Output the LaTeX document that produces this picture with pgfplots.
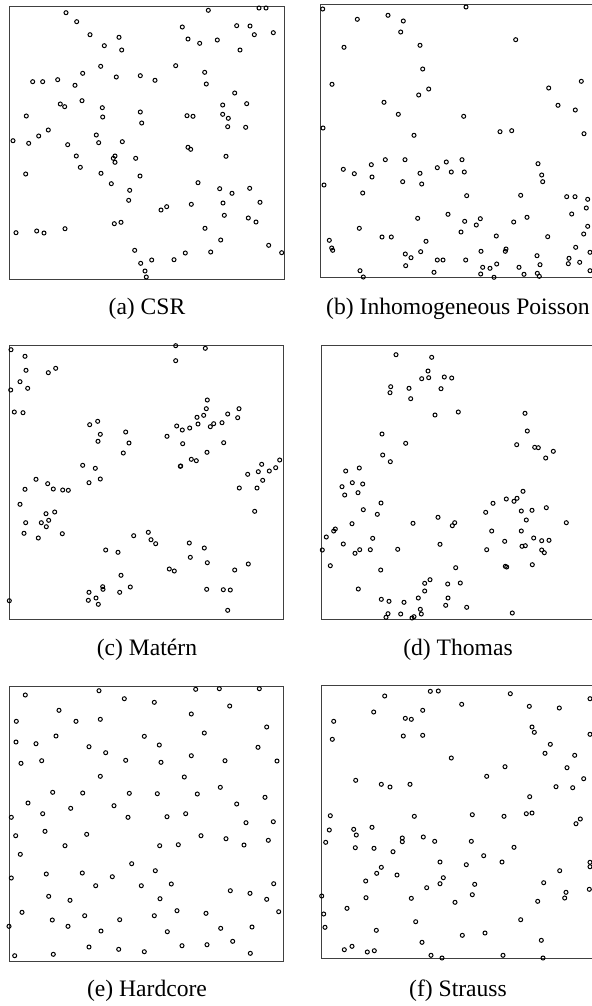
\documentclass[border=0pt]{standalone}
\usepackage{pgfplots}
\pgfplotsset{compat=1.18}
\usepackage{fontspec}
\setmainfont{Liberation Serif}
\pgfplotsset{pp/.style={scale only axis, xtick=\empty, ytick=\empty, y dir=reverse, clip=false,
  axis line style={line width=0.5pt, black!75}, anchor=north west},
  pt/.style={black, only marks, mark=o, mark size=1pt, mark options={line width=0.5pt, black, solid, fill=none}}}
\newcommand{\subcap}[3]{\node[font=\fontsize{11.8}{14}\selectfont] at (#1*0.5pt,-#2*0.5pt) {#3};}
\begin{document}
\begin{tikzpicture}
% (a) CSR
\begin{axis}[pp, xmin=9.5, xmax=284, ymin=6, ymax=279.5, width=137.25pt, height=136.75pt, at={(4.75pt,-3pt)}]
\addplot[pt] coordinates {(66.0,12.7) (76.7,21.7) (90.0,34.7) (104.3,45.7) (119.0,37.3) (121.7,50.0) (208.3,10.3) (259.0,8.0) (266.0,8.0) (182.3,27.0) (188.0,39.0) (199.7,43.3) (217.3,40.0) (236.7,25.7) (250.0,26.0) (254.3,34.7) (273.3,32.7) (240.0,50.0) (175.7,65.7) (100.7,66.3) (82.7,73.3) (32.7,81.7) (42.7,81.7) (57.7,79.7) (75.0,85.3) (116.3,77.0) (140.3,75.7) (155.0,80.3) (204.7,72.3) (206.3,84.0) (234.7,93.0) (60.3,104.0) (64.7,106.7) (82.0,100.7) (102.3,107.7) (102.7,117.0) (26.3,116.0) (140.3,112.0) (141.7,123.0) (187.0,115.7) (193.0,116.3) (222.7,105.0) (246.7,103.7) (222.7,114.3) (228.3,118.3) (227.7,126.7) (245.7,127.3) (48.3,130.0) (38.7,136.0) (96.3,135.0)
(13.0,140.7) (28.7,143.3) (67.7,144.7) (98.7,142.7) (122.3,141.7) (188.0,147.3) (190.7,149.3) (226.0,156.3) (76.3,156.0) (80.3,167.3) (115.0,156.0) (113.3,158.3) (115.0,162.3) (135.7,158.3) (25.7,174.0) (101.0,173.3) (140.0,176.0) (111.3,183.7) (129.7,190.3) (128.7,200.3) (198.0,182.7) (219.7,188.7) (232.0,193.3) (249.7,188.3) (260.0,202.3) (223.0,203.0) (191.3,204.3) (161.0,210.0) (166.7,206.7) (224.3,215.3) (248.3,218.0) (256.0,222.0) (114.3,223.7) (121.0,222.3) (16.0,232.7) (36.7,231.0) (44.0,233.0) (65.0,228.7) (205.0,228.3) (220.7,240.0) (268.7,245.3) (281.7,252.7) (134.7,250.3) (210.7,252.0) (185.3,253.0) (174.0,259.7) (151.7,260.0) (140.7,263.3) (145.0,271.0) (146.3,277.0)};
\end{axis}
% (b) Inhomogeneous Poisson
\begin{axis}[pp, xmin=320.7, xmax=595.2, ymin=4, ymax=277.7, width=137.25pt, height=136.85pt, at={(160.35pt,-2pt)}]
\addplot[pt] coordinates {(322.7,9.0) (466.0,7.0) (357.3,19.3) (388.0,15.3) (403.3,21.0) (400.7,32.0) (344.0,47.3) (420.0,45.3) (515.7,39.7) (422.7,69.0) (332.0,84.3) (428.7,89.0) (418.7,95.0) (384.0,102.3) (398.3,114.3) (463.7,116.3) (548.7,88.0) (581.3,81.3) (558.0,105.3) (575.3,110.0) (323.0,128.0) (414.0,135.3) (500.0,131.7) (511.7,130.7) (584.0,133.7)
(343.3,169.3) (354.3,173.7) (371.3,164.7) (385.3,159.7) (405.0,159.7) (372.0,177.0) (324.0,185.0) (362.7,193.0) (402.7,181.7) (420.0,173.3) (421.7,184.0) (437.3,167.7) (446.3,162.0) (451.3,172.0) (462.0,159.7) (464.3,172.0) (466.7,195.7) (538.0,163.7) (541.7,175.0) (542.7,181.7) (520.7,195.3) (566.7,196.7) (575.0,196.7) (587.7,199.3) (586.3,208.0) (571.7,214.0) (587.7,226.3) (583.7,234.0) (417.7,218.3) (448.0,214.3) (464.7,221.3) (480.3,218.7) (476.3,225.0) (461.0,232.0) (513.7,222.0) (527.0,217.3) (359.3,228.3) (329.3,240.3) (331.7,248.0) (332.7,250.3) (382.0,237.0) (391.3,237.0) (426.0,241.3) (496.3,236.0) (547.7,236.7) (575.7,247.3) (590.0,252.3) (405.3,254.0) (411.0,257.7) (420.7,251.7) (405.7,265.7) (437.3,260.0) (443.0,260.0) (465.7,260.0) (434.0,272.3) (481.0,251.3) (506.0,249.0) (505.3,251.3) (482.7,267.3) (490.0,268.3) (496.7,264.0) (480.7,274.0) (494.0,277.3) (519.0,267.3) (524.0,274.3) (537.0,255.7) (540.0,264.7) (537.3,273.3) (539.3,276.3) (569.0,258.3) (568.3,263.7) (579.7,262.3) (590.0,270.7) (360.0,270.7) (363.3,277.0)};
\end{axis}
% (c) Matern
\begin{axis}[pp, xmin=9.3, xmax=283.7, ymin=345.3, ymax=619.7, width=137.2pt, height=137.2pt, at={(4.65pt,-172.65pt)}]
\addplot[pt] coordinates {(11.0,349.7) (25.0,356.3) (26.0,370.3) (20.0,381.7) (10.7,390.0) (27.7,388.3) (48.3,372.7) (55.7,368.3) (14.3,412.0) (23.0,412.7) (175.7,345.7) (205.3,348.3) (175.7,360.7) (207.3,400.0) (206.3,408.7) (239.0,408.7) (227.7,414.0) (237.7,417.7) (203.7,415.3) (197.0,417.3) (198.0,424.0) (189.7,428.0) (213.7,423.7) (210.3,426.7) (222.0,422.7) (176.7,426.0) (182.3,430.0) (167.0,436.3) (182.7,443.7) (223.7,442.7) (207.0,452.3) (191.3,459.3) (196.3,460.7) (180.3,466.3) (180.7,466.0) (89.7,424.7) (97.7,421.3) (100.3,434.3) (98.0,441.3) (125.7,432.0) (129.0,443.0) (123.3,453.0) (82.7,465.3) (95.3,468.3) (100.3,479.0) (36.0,479.3) (279.7,460.0) (261.7,464.3) (258.3,471.7) (269.3,471.0) (275.7,467.7) (247.7,474.3)
(47.7,483.7) (89.0,482.7) (262.7,480.3) (25.0,489.3) (53.3,489.0) (62.7,490.0) (68.3,490.3) (20.0,504.3) (46.0,513.7) (54.7,512.0) (25.7,522.7) (41.3,522.7) (48.7,520.3) (46.3,526.7) (24.0,533.3) (38.3,538.0) (62.3,533.7) (239.3,488.0) (257.0,488.0) (254.7,511.3) (133.7,535.7) (148.3,532.3) (151.0,539.7) (155.7,543.7) (105.7,550.0) (118.0,552.3) (189.3,543.0) (204.3,548.0) (190.3,557.3) (207.3,562.7) (248.3,564.0) (234.7,570.0) (169.3,569.0) (174.3,571.0) (121.0,575.3) (130.3,587.0) (119.7,592.3) (102.7,586.7) (103.0,589.3) (89.0,592.3) (88.3,600.3) (96.0,598.0) (98.3,604.3) (206.7,589.3) (223.3,589.7) (230.3,590.0) (227.7,610.3) (9.3,600.7)};
\end{axis}
% (d) Thomas
\begin{axis}[pp, xmin=321.3, xmax=595.8, ymin=345.3, ymax=619.7, width=137.25pt, height=137.2pt, at={(160.65pt,-172.65pt)}]
\addplot[pt] coordinates {(396.0,354.7) (431.7,357.3) (428.0,371.0) (421.7,378.7) (428.7,377.7) (444.3,377.0) (451.7,378.0) (390.7,386.7) (390.0,392.7) (409.0,388.3) (410.7,398.7) (441.0,388.7) (435.0,415.0) (458.3,412.0) (525.0,413.3) (527.3,431.0) (516.7,444.7) (534.7,447.3) (538.3,447.7) (553.3,451.3) (545.7,458.0) (382.0,434.0) (405.7,443.3) (382.7,455.0) (390.3,461.7) (345.7,471.0) (359.3,468.0)
(342.0,486.7) (352.3,482.7) (362.7,484.0) (344.7,495.0) (358.0,492.7) (381.0,503.0) (363.3,509.7) (377.3,514.3) (352.0,523.7) (335.3,529.0) (333.7,531.0) (326.3,537.0) (343.3,544.0) (372.7,538.3) (359.7,549.7) (355.0,553.3) (370.3,549.7) (322.3,550.0) (330.3,565.7) (380.7,570.0) (358.3,589.0) (397.7,549.3) (413.0,523.3) (438.0,517.3) (454.7,522.7) (452.3,525.7) (440.0,544.3) (455.7,567.7) (430.0,579.7) (424.7,583.3) (424.7,591.0) (447.7,584.0) (460.3,583.0) (418.3,598.0) (448.0,598.0) (445.7,605.3) (466.7,607.3) (381.3,599.3) (389.0,601.3) (404.0,602.3) (388.0,613.7) (386.0,617.3) (400.7,614.0) (420.3,609.3) (421.3,614.0) (414.0,616.7) (412.0,618.0) (512.3,613.0) (485.7,512.3) (493.0,503.3) (506.3,499.0) (514.0,501.3) (517.0,498.3) (523.0,491.3) (521.3,511.0) (532.0,510.3) (546.3,507.7) (526.3,520.0) (566.3,522.7) (491.7,531.0) (521.3,531.0) (504.7,541.3) (533.7,538.0) (541.7,540.7) (549.0,540.3) (522.0,546.3) (525.3,545.7) (486.7,549.7) (541.7,550.0) (544.3,552.7) (505.3,566.3) (506.7,567.0) (532.3,564.7)};
\end{axis}
% (e) Hardcore
\begin{axis}[pp, xmin=9.3, xmax=283.7, ymin=686.7, ymax=961.3, width=137.2pt, height=137.3pt, at={(4.65pt,-343.35pt)}]
\addplot[pt] coordinates {(25.3,695.0) (99.0,690.7) (124.3,698.7) (154.3,702.3) (195.7,689.3) (219.3,688.7) (259.3,688.7) (229.7,706.0) (59.0,710.3) (16.3,721.3) (76.0,721.3) (100.3,719.3) (191.3,714.0) (266.7,727.0) (204.3,733.0) (16.0,742.0) (36.0,743.7) (56.0,736.0) (144.3,736.3) (89.0,746.7) (159.3,745.0) (258.0,747.3) (105.7,752.7) (191.3,755.7) (21.0,763.3) (41.7,760.7) (125.7,760.3) (161.0,762.3) (225.0,760.7) (277.0,761.0) (100.3,776.3) (184.3,777.0) (52.7,792.3) (82.7,793.0) (129.3,793.3) (157.3,793.7) (197.3,794.0) (220.3,787.3) (265.0,797.3) (28.0,803.0) (70.7,808.3) (114.0,805.7) (236.7,804.0) (11.3,817.3) (42.7,813.7) (128.0,817.3) (167.0,816.7) (185.7,813.7) (246.0,822.7) (273.3,821.7)
(15.7,835.7) (45.0,831.3) (86.7,834.3) (65.0,845.7) (159.7,845.7) (178.3,844.7) (201.0,835.7) (226.0,838.7) (244.0,845.0) (268.3,840.3) (20.3,854.3) (131.7,863.7) (155.3,870.7) (11.3,878.0) (46.3,874.0) (82.3,873.0) (112.3,876.7) (95.7,885.7) (141.3,885.7) (171.3,884.0) (273.7,883.7) (230.3,890.7) (250.0,893.3) (266.7,899.3) (48.7,896.3) (70.0,900.3) (160.0,898.7) (22.0,912.3) (52.3,920.0) (84.7,915.7) (119.7,919.7) (154.3,915.7) (177.0,910.7) (206.0,913.3) (278.7,911.7) (9.0,926.3) (68.0,926.3) (101.0,931.0) (167.3,931.7) (220.7,928.3) (252.0,927.0) (232.7,941.3) (207.0,944.7) (182.0,945.7) (89.0,947.0) (118.7,949.3) (144.3,951.7) (14.7,955.7) (53.3,954.3) (250.3,953.3)};
\end{axis}
% (f) Strauss
\begin{axis}[pp, xmin=321.3, xmax=595.8, ymin=685.3, ymax=958.7, width=137.25pt, height=136.7pt, at={(160.65pt,-342.65pt)}]
\addplot[pt] coordinates {(384.7,696.0) (430.3,691.3) (438.3,691.0) (510.3,693.7) (590.0,698.7) (373.7,712.0) (422.7,710.3) (461.7,704.3) (529.3,706.3) (559.3,708.0) (333.7,721.3) (405.3,718.3) (411.3,719.3) (532.0,727.0) (534.3,732.3) (590.0,734.3) (332.3,739.3) (403.3,736.0) (422.7,735.3) (550.3,744.3) (545.0,753.3) (574.7,755.3) (451.3,758.0) (505.0,766.7) (567.0,767.7) (583.7,778.7) (486.7,776.3) (355.7,780.3) (381.3,784.3) (390.0,787.0) (410.0,784.3) (556.0,786.7) (572.7,787.7) (529.7,796.7) (330.3,815.7) (414.3,816.3) (472.3,814.7) (504.0,816.3) (526.3,813.7) (532.0,813.0) (580.3,819.0)
(329.3,830.0) (353.7,829.3) (356.3,835.0) (372.0,827.3) (325.7,842.3) (355.3,847.7) (374.0,848.3) (393.0,851.7) (402.3,838.0) (402.3,841.7) (423.3,837.0) (434.7,841.3) (471.3,841.3) (514.0,847.3) (576.0,823.7) (483.7,855.7) (502.0,862.0) (466.3,864.7) (440.0,862.0) (381.3,867.3) (376.7,873.3) (397.0,875.0) (365.7,881.0) (443.3,877.7) (440.0,883.7) (426.7,887.7) (474.7,884.3) (472.3,894.7) (559.7,870.7) (590.0,862.3) (590.0,866.7) (543.7,882.7) (566.0,892.3) (564.7,898.0) (537.7,901.3) (589.3,889.3) (321.7,896.0) (366.0,897.7) (411.3,898.3) (455.0,902.3) (347.0,908.3) (323.7,914.0) (325.0,927.3) (415.7,921.7) (520.7,919.7) (376.3,930.3) (462.3,935.3) (485.0,933.0) (422.0,942.3) (541.3,940.3) (344.3,949.7) (352.0,946.3) (367.3,952.0) (374.3,950.7) (431.0,955.3) (442.0,958.0) (503.0,955.3) (543.0,958.0)};
\end{axis}
\subcap{147}{309}{(a) CSR}
\subcap{458}{309}{(b) Inhomogeneous Poisson}
\subcap{147}{650}{(c) Matérn}
\subcap{458}{650}{(d) Thomas}
\subcap{147}{991}{(e) Hardcore}
\subcap{458}{991}{(f) Strauss}
\pgfresetboundingbox
\useasboundingbox (0,0) rectangle (295.5pt,-503pt);
\end{tikzpicture}
\end{document}
